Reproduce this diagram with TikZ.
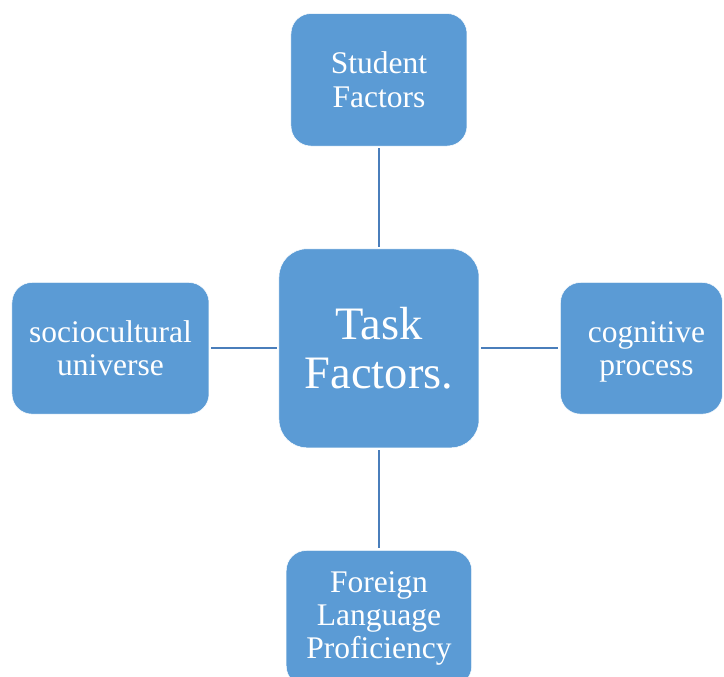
\documentclass[tikz,border=0pt]{standalone}
\usepackage{fontspec}
\setmainfont{Liberation Serif}
\usetikzlibrary{positioning}
\definecolor{boxblue}{RGB}{91,155,213}
\definecolor{lineblue}{RGB}{74,126,187}
\begin{document}
\begin{tikzpicture}[
                            node distance=268.5pt,
                            factor/.style={rectangle, rounded corners=20pt, fill=boxblue, draw=white, line width=0.5pt, text=white, align=center, inner sep=0pt, font=\fontsize{31.5}{33.3}\selectfont},
                            link/.style={draw=lineblue, line width=2pt, shorten <=2pt, shorten >=2pt}
                            ]
                            \useasboundingbox (-379pt,-328.7pt) rectangle (345pt,348.3pt);

                            \node [factor, rounded corners=28pt, minimum width=200pt, minimum height=199pt, font=\fontsize{46.5}{49.7}\selectfont] (task) at (0,0) {Task\\Factors.};
                            \node [factor, above of = task, minimum width=176pt, minimum height=132.5pt] (student) {Student\\Factors};
                            \node [factor, left of = task, minimum width=197pt, minimum height=131.6pt] (socio) {sociocultural\\universe};
                            \node [factor, right of = task, node distance=262.5pt, minimum width=162pt, minimum height=131.6pt, text depth=0pt] (cognitive) {\hspace*{10pt}cognitive\\\hspace*{10pt}process};
                            \node [factor, below of = task, node distance=270pt, minimum width=185.5pt, minimum height=135.6pt] (foreign) {Foreign\\Language\\Proficiency};

                            \draw[link] (student) -- (task);
                            \draw[link] (socio) -- (task);
                            \draw[link] (task) -- (cognitive);
                            \draw[link] (task) -- (foreign);
                        \end{tikzpicture}
\end{document}
